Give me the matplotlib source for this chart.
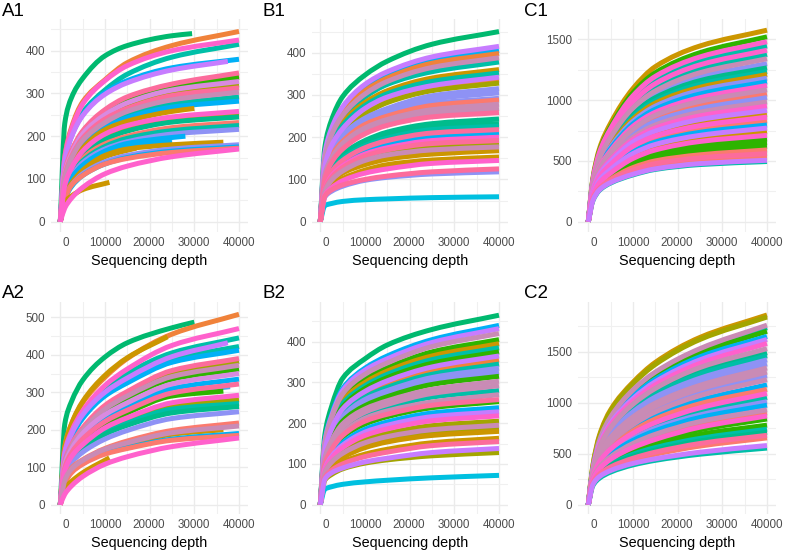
import matplotlib
matplotlib.use("Agg")
import matplotlib.pyplot as plt
from matplotlib.path import Path
from matplotlib.patches import PathPatch
from matplotlib.transforms import ScaledTranslation

plt.rcParams['font.family'] = ['Liberation Sans', 'DejaVu Sans']

W, H = 787, 554
depths = [0, 1000, 2500, 5000, 10000, 15000, 25000, 40000]

GRN = '#00B96F'; ORG = '#F0823A'; PNK = '#FF61CC'; TEA = '#00BFA8'; BLU = '#00B0F6'
PUR = '#C77CFF'; PER = '#8E92F5'; SAL = '#FB7A6E'; ROS = '#FC6C9C'; LIM = '#2EB400'
OLV = '#A3A500'; GLD = '#CC9600'; MAU = '#C98BB5'; CYN = '#00C0E0'; GTE = '#00BC8C'
STL = '#4FA6E8'; LAV = '#D98AE0'
TOP_COLORS = [PNK, ROS, PUR, LAV, MAU]

A1_values = [
    [0,230,290,335,388,412,435,440],[0,150,220,280,332,372,412,445],[0,150,215,275,330,365,400,425],
    [0,145,205,255,308,345,385,415],[0,140,200,250,302,330,360,380],[0,140,198,248,298,325,355,375],
    [0,115,165,212,262,292,322,348],[0,112,162,208,260,288,318,342],[0,110,160,210,258,285,315,338],
    [0,110,158,205,250,278,308,328],[0,105,155,200,245,272,302,320],[0,105,152,195,240,265,295,313],
    [0,100,148,190,232,258,285,303],[0,98,142,182,225,248,275,292],[0,95,138,178,220,243,268,282],
    [0,95,135,172,215,235,258,265],[0,85,125,165,205,225,245,258],[0,85,122,160,198,218,240,252],
    [0,80,118,155,192,212,233,245],[0,75,112,148,182,200,220,232],[0,72,108,142,176,195,213,225],
    [0,70,105,138,170,187,205,216],[0,70,102,132,165,183,197,200],[0,65,95,125,158,175,188],
    [0,60,90,120,155,170,180,186],[0,60,88,115,152,167,172],[0,55,85,112,140,155,170,180],
    [0,52,82,108,135,150,165,175],[0,52,85,108,135,148,162,172],[0,32,55,80,112,130,152,170],
    [0,45,60,75,92],
]
A1_ends = [29500,40000,40000,40000,40000,37500,40000,40000,40000,40000,40000,40000,40000,40000,40000,
           30000,40000,40000,40000,40000,40000,40000,28000,25000,36500,17000,40000,40000,40000,40000,11000]
A1_colors = [GRN,ORG,PNK,TEA,BLU,PUR,ROS,SAL,LIM,LAV,OLV,ROS,MAU,TEA,BLU,GLD,PNK,OLV,GTE,SAL,TEA,PER,BLU,BLU,GLD,GLD,PER,BLU,SAL,PNK,GLD]

A2_values = [
    [0,215,275,332,394,432,472,487],[0,155,215,272,340,390,455,508],[0,150,215,275,345,392,448],
    [0,140,195,250,318,362,425,470],[0,135,190,245,310,350,405,445],[0,135,188,240,300,338,395,432],
    [0,130,185,235,295,332,388,422],[0,128,180,230,290,325,380,412],[0,115,160,205,265,302,358,390],
    [0,112,158,202,258,295,350,382],[0,110,155,198,255,290,342,372],[0,108,152,195,250,285,335,362],
    [0,105,148,190,240,272,322,350],[0,100,142,180,228,262,310,335],[0,98,138,175,222,252,298,322],
    [0,95,135,172,220,248,295,315],[0,95,135,170,215,245,290,303],[0,90,128,160,205,232,272,292],
    [0,88,122,155,198,225,262,280],[0,85,120,150,192,218,255,270],[0,82,118,148,188,212,245,262],
    [0,80,112,140,175,198,230,248],[0,68,98,120,150,170,198,218],[0,65,95,118,148,165,192,210],
    [0,65,92,115,145,160,188,200],[0,60,88,110,138,152,175,190],[0,55,85,108,135,150,172,185],
    [0,28,50,75,108,128,155,178],[0,42,62,85,125],
]
A2_ends = [30000,40000,24000,40000,40000,37500,40000,40000,40000,40000,40000,40000,40000,40000,40000,
           38000,36500,40000,40000,40000,40000,40000,40000,40000,36500,40000,40000,40000,11000]
A2_colors = [GRN,ORG,GLD,PNK,TEA,PUR,TEA,BLU,ROS,OLV,MAU,LIM,LAV,BLU,ROS,STL,LIM,PNK,OLV,TEA,GTE,PER,SAL,MAU,GLD,BLU,SAL,PNK,GLD]

B1_values = [
    [0,175,240,296,347,380,420,450],[0,160,220,272,325,355,390,415],[0,155,215,265,318,348,382,405],
    [0,150,212,260,310,340,375,398],[0,148,205,252,302,332,365,388],[0,145,200,245,295,325,355,378],
    [0,140,192,235,282,310,340,360],[0,135,185,228,275,303,332,352],[0,130,180,220,268,295,322,342],
    [0,128,175,215,262,288,318,335],[0,125,170,210,255,282,310,328],[0,120,165,205,245,268,298,315],
    [0,118,162,200,240,262,290,305],[0,115,160,195,235,255,280,292],[0,112,155,190,230,250,275,288],
    [0,110,150,185,222,242,265,278],[0,105,145,178,215,235,255,268],[0,100,140,172,208,228,248,258],
    [0,95,130,160,192,212,232,243],[0,92,125,155,185,205,224,232],[0,90,122,150,180,198,218,226],
    [0,85,118,145,175,192,210,218],[0,80,112,140,168,185,202,210],[0,75,108,132,160,175,192,200],
    [0,74,104,128,155,170,185,192],[0,72,100,125,150,165,178,185],[0,70,98,120,145,158,170,177],
    [0,68,92,115,135,148,160,168],[0,65,85,102,122,135,146,153],[0,62,80,97,115,125,138,145],
    [0,60,75,87,100,108,118,125],[0,58,72,84,98,105,113,118],[0,38,43,48,52,54,57,59],
]
B1_colors = [GRN,PUR,BLU,ORG,MAU,TEA,GLD,TEA,PUR,ORG,OLV,PER,PER,PER,SAL,MAU,MAU,ROS,GTE,GTE,TEA,ROS,BLU,PNK,ROS,OLV,MAU,GLD,GLD,PNK,ROS,PER,CYN]

C1_values = [
    [0,350,600,810,1095,1275,1445,1575],[0,340,580,780,1060,1225,1390,1520],[0,335,570,765,1035,1195,1355,1480],
    [0,330,555,745,1010,1165,1325,1445],[0,325,545,730,985,1135,1290,1410],[0,320,530,710,960,1105,1255,1375],
    [0,310,520,695,935,1075,1225,1340],[0,305,505,675,905,1045,1190,1300],[0,300,495,655,885,1020,1160,1265],
    [0,295,485,640,865,995,1130,1235],[0,290,475,630,845,975,1105,1210],[0,285,465,615,825,950,1080,1180],
    [0,280,455,600,805,925,1050,1150],[0,275,445,585,785,900,1020,1120],[0,270,435,570,760,875,990,1085],
    [0,265,425,555,740,850,960,1050],[0,260,415,540,720,825,930,1020],[0,255,405,525,695,795,900,985],
    [0,250,395,510,675,770,870,950],[0,245,385,495,655,745,840,915],[0,240,375,480,630,720,810,880],
    [0,235,370,470,620,705,790,860],[0,230,360,455,600,680,765,830],[0,225,350,440,575,655,735,795],
    [0,220,340,430,560,635,710,770],[0,215,330,415,540,610,685,740],[0,210,320,400,520,590,660,710],
    [0,205,310,385,500,565,635,680],[0,200,300,375,480,545,605,650],[0,195,290,360,460,520,580,620],
    [0,190,285,350,445,500,550,590],[0,185,275,340,425,478,525,560],[0,180,268,330,405,455,498,530],
    [0,172,262,322,390,435,478,505],[0,170,258,318,385,430,470,495],
]
C1_colors = [GLD,LIM,PNK,TEA,PNK,TEA,MAU,PER,GTE,TEA,GLD,PER,BLU,PNK,MAU,SAL,PER,MAU,PNK,PUR,GLD,PNK,SAL,BLU,PUR,GLD,PNK,LIM,LIM,LIM,SAL,ROS,SAL,PUR,TEA]

B2_values = [
    [0,170,240,310,358,392,430,465],[0,155,220,285,335,365,405,440],[0,152,216,280,330,358,398,432],
    [0,150,212,272,320,348,388,420],[0,145,205,262,308,336,375,405],[0,142,200,255,300,328,365,395],
    [0,138,195,248,292,320,356,385],[0,135,190,240,285,312,347,375],[0,132,185,235,278,304,338,365],
    [0,128,180,228,270,296,330,355],[0,125,175,222,264,288,320,345],[0,122,170,216,258,280,312,335],
    [0,118,166,210,250,272,303,325],[0,115,160,205,243,265,295,315],[0,112,156,198,235,255,283,303],
    [0,108,150,190,227,246,273,292],[0,105,145,183,220,238,264,280],[0,100,140,176,212,230,252,270],
    [0,98,135,170,205,222,244,258],[0,96,132,166,198,216,238,253],[0,90,122,152,185,203,225,238],
    [0,86,118,146,178,195,216,228],[0,84,114,140,170,186,206,218],[0,80,108,132,160,175,194,205],
    [0,78,104,126,152,167,184,195],[0,74,100,120,146,160,176,186],[0,72,96,116,140,154,170,180],
    [0,68,88,105,124,136,152,163],[0,66,84,100,118,129,145,155],[0,62,78,90,105,114,128,138],
    [0,60,74,88,102,110,120,128],[0,38,44,50,56,60,66,72],
]
B2_colors = [GRN,BLU,PUR,MAU,LIM,GLD,TEA,LIM,PUR,ORG,TEA,PER,PER,LIM,MAU,MAU,TEA,MAU,ROS,LIM,BLU,PUR,PNK,OLV,MAU,OLV,GLD,GLD,ROS,PUR,OLV,CYN]

C2_values = [
    [0,380,680,930,1200,1395,1640,1860],[0,370,665,915,1185,1375,1620,1840],[0,350,630,860,1125,1300,1530,1760],
    [0,345,620,850,1105,1285,1510,1735],[0,340,610,840,1090,1265,1490,1700],[0,335,600,815,1065,1230,1450,1650],
    [0,330,590,800,1040,1205,1420,1620],[0,325,575,780,1015,1175,1385,1580],[0,320,560,755,985,1140,1345,1530],
    [0,315,545,735,955,1105,1305,1490],[0,310,530,720,935,1085,1280,1460],[0,305,520,700,910,1055,1240,1420],
    [0,300,505,680,885,1025,1205,1380],[0,295,495,660,860,995,1170,1340],[0,290,480,640,830,965,1135,1300],
    [0,285,470,625,810,940,1105,1265],[0,280,460,610,785,910,1070,1225],[0,275,445,585,750,870,1025,1175],
    [0,270,430,565,725,840,990,1130],[0,265,420,545,700,805,950,1090],[0,260,405,525,675,775,915,1050],
    [0,255,395,510,650,750,880,1010],[0,250,385,495,630,725,855,975],[0,245,370,470,600,690,815,930],
    [0,240,360,455,580,665,785,900],[0,235,350,445,560,640,760,870],[0,230,340,430,540,620,735,840],
    [0,225,330,410,515,590,690,780],[0,220,320,395,495,560,650,740],[0,215,310,385,475,535,625,710],
    [0,210,300,370,455,515,600,680],[0,205,290,355,440,495,575,655],[0,195,275,335,405,450,515,580],
    [0,185,260,320,390,435,495,555],
]
C2_colors = [GLD,OLV,MAU,TEA,LIM,BLU,PUR,PNK,MAU,GTE,TEA,PER,PER,MAU,MAU,PER,MAU,BLU,SAL,PNK,TEA,PER,BLU,MAU,SAL,PNK,LIM,LIM,TEA,GTE,ROS,SAL,PUR,TEA]

panel_names = ['A1', 'B1', 'C1', 'A2', 'B2', 'C2']
panel_values = [A1_values, B1_values, C1_values, A2_values, B2_values, C2_values]
panel_colors = [A1_colors, B1_colors, C1_colors, A2_colors, B2_colors, C2_colors]
panel_ends = [A1_ends, None, None, A2_ends, None, None]
y_majors = [[0,100,200,300,400], [0,100,200,300,400], [0,500,1000,1500],
            [0,100,200,300,400,500], [0,100,200,300,400], [0,500,1000,1500]]
x_major = [0, 10000, 20000, 30000, 40000]

# pixel calibration: panel left/right/top/bottom, x of 0, x of 40000, y of 0, y of a reference tick
layout = {
    'A1': (51, 248, 19, 232, 60.3, 239, 221.7, 50.7, 400, 2),
    'B1': (312, 508, 19, 232, 320.3, 499, 221.7, 52.7, 400, 263),
    'C1': (578, 775.7, 19, 232, 588.3, 767, 221.7, 39.3, 1500, 524),
    'A2': (51, 248, 302, 514, 60.3, 239, 504.7, 317.3, 500, 2),
    'B2': (312, 508, 302, 514, 320.3, 499, 504.7, 341.7, 400, 263),
    'C2': (578, 775.7, 302, 514, 588.3, 767, 504.7, 351.7, 1500, 524),
}
label_tops = {'1': 11, '2': 294}


def smooth_path(xs, ys):
    """Monotone Bezier path through the read points (a smooth line, like a spline geom)."""
    n = len(xs)
    h = [xs[i + 1] - xs[i] for i in range(n - 1)]
    d = [(ys[i + 1] - ys[i]) / h[i] for i in range(n - 1)]
    m = [d[0]] + [0.0] * (n - 2) + [d[-1]]
    for i in range(1, n - 1):
        w1, w2 = 2 * h[i] + h[i - 1], h[i] + 2 * h[i - 1]
        m[i] = (w1 + w2) / (w1 / d[i - 1] + w2 / d[i]) if d[i - 1] > 0 and d[i] > 0 else 0.0
    verts = [(xs[0], ys[0])]
    codes = [Path.MOVETO]
    for i in range(n - 1):
        verts += [(xs[i] + h[i] / 3, ys[i] + m[i] * h[i] / 3),
                  (xs[i + 1] - h[i] / 3, ys[i + 1] - m[i + 1] * h[i] / 3),
                  (xs[i + 1], ys[i + 1])]
        codes += [Path.CURVE4] * 3
    return Path(verts, codes)


fig = plt.figure(figsize=(W / 100, H / 100), dpi=100, facecolor='white')
for name, vals, cols, ends, ymaj in zip(panel_names, panel_values, panel_colors, panel_ends, y_majors):
    l, r, t, b, x0, x40, y0, yref, refv, lx = layout[name]
    ax = fig.add_axes([l / W, 1 - b / H, (r - l) / W, (b - t) / H])
    sx = 40000 / (x40 - x0)
    sy = refv / (y0 - yref)
    ax.set_xlim((l - x0) * sx, (r - x0) * sx)
    ax.set_ylim((y0 - b) * sy, (y0 - t) * sy)
    for s in ax.spines.values():
        s.set_visible(False)
    step = ymaj[1] - ymaj[0]
    ax.set_xticks(x_major)
    ax.set_xticks([5000, 15000, 25000, 35000], minor=True)
    ax.set_yticks(ymaj)
    ax.set_yticks([v + step / 2 for v in ymaj if v + step / 2 <= (y0 - t) * sy], minor=True)
    ax.grid(True, which='major', color='#EBEBEB', lw=1.0)
    ax.grid(True, which='minor', color='#F0F0F0', lw=0.8)
    ax.set_axisbelow(True)
    ax.tick_params(which='both', length=0)
    ax.tick_params(axis='x', labelsize=8.4, labelcolor='#4D4D4D', pad=3.5)
    ax.tick_params(axis='y', labelsize=8.4, labelcolor='#4D4D4D', pad=4)
    ax.set_xticklabels([str(v) for v in x_major])
    dx = [5, 0, -1, -1, 0]
    for lab, d in zip(ax.get_xticklabels(), dx):
        lab.set_transform(lab.get_transform() + ScaledTranslation(d / 100, 0, fig.dpi_scale_trans))
    order = sorted(range(len(vals)), key=lambda i: cols[i] in TOP_COLORS)
    for i in order:
        row = vals[i]
        end = ends[i] if ends else 40000
        xs = depths[:len(row) - 1] + [end]
        ax.add_patch(PathPatch(smooth_path(xs, row), fill=False, edgecolor=cols[i], lw=3.6,
                               capstyle='butt', joinstyle='round'))
    ax.set_xlabel('Sequencing depth', fontsize=10.4, color='black', labelpad=3.5)
    fig.text(lx / W, 1 - label_tops[name[1]] / H, name, fontsize=13.5, color='black', ha='left', va='center')

fig.savefig('out.png', dpi=100)
